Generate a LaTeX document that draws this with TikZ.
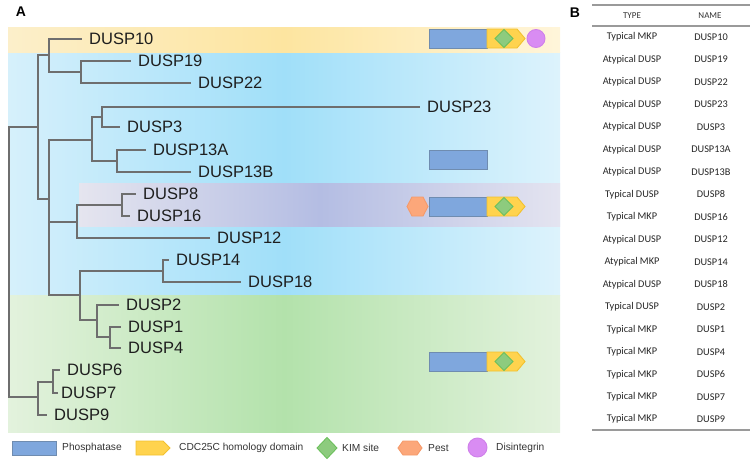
\documentclass[tikz,border=0pt]{standalone}
\usepackage{fontspec}
\setmainfont{Liberation Sans}
\newfontfamily\tabfont{Carlito}

\definecolor{treegray}{HTML}{6E6E6E}
\definecolor{leafblack}{HTML}{1E1E1E}
\definecolor{phosblue}{HTML}{7FA7DD}
\definecolor{phosedge}{HTML}{6F8CB0}
\definecolor{cdcyellow}{HTML}{FFD34E}
\definecolor{cdcedge}{HTML}{F2C12E}
\definecolor{kimgreen}{HTML}{8DCB7E}
\definecolor{kimedge}{HTML}{6CC05C}
\definecolor{pestorange}{HTML}{FCA77A}
\definecolor{pestedge}{HTML}{F59A6A}
\definecolor{disviolet}{HTML}{D98CF3}
\definecolor{disedge}{HTML}{CF80EA}
\definecolor{rulegray}{HTML}{9A9A9A}
\definecolor{bluel}{HTML}{D6F0FB}
\definecolor{bluem}{HTML}{A0DFF9}
\definecolor{bluer}{HTML}{DDF3FC}
\definecolor{yell}{HTML}{FCEFCA}
\definecolor{yelm}{HTML}{FDE5A0}
\definecolor{yelr}{HTML}{FFF5DA}
\definecolor{purl}{HTML}{E5E5EF}
\definecolor{purm}{HTML}{B4BDE3}
\definecolor{purr}{HTML}{E4E4F0}
\definecolor{grnl}{HTML}{E3F2DD}
\definecolor{grnm}{HTML}{B3E2AB}
\definecolor{grnr}{HTML}{E3F2DD}

\tikzset{
  branch/.style={draw=treegray, line width=2.2pt},
  leaf/.style={anchor=west, inner xsep=7pt, inner ysep=0pt, text=leafblack,
    font=\fontsize{16.5}{18}\selectfont},
  phos/.style={fill=phosblue, draw=phosedge, line width=0.9pt},
  cdc/.style={fill=cdcyellow, draw=cdcedge, line width=0.9pt},
  kim/.style={fill=kimgreen, draw=kimedge, line width=0.9pt},
  pest/.style={fill=pestorange, draw=pestedge, line width=0.9pt},
  disin/.style={fill=disviolet, draw=disedge, line width=0.9pt},
  legtext/.style={anchor=west, inner sep=0pt, text=black!80,
    font=\fontsize{10.2}{12}\selectfont},
  tabtext/.style={text=black!85, font=\tabfont\fontsize{10.3}{12}\selectfont},
  tabhead/.style={text=black!80, font=\tabfont\fontsize{9}{11}\selectfont},
  tabrule/.style={draw=rulegray, line width=1.2pt}
}

\begin{document}
\begin{tikzpicture}[x=1pt, y=-1pt]
    \useasboundingbox (0,0) rectangle (756,463);

    % coloured groups
    \shade[left color=bluel, right color=bluer, middle color=bluem] (8,52) rectangle (560,295);
    \shade[left color=yell, right color=yelr, middle color=yelm] (8,27) rectangle (560,52);
    \shade[left color=purl, right color=purr, middle color=purm] (79,183) rectangle (560,226);
    \shade[left color=grnl, right color=grnr, middle color=grnm] (8,295) rectangle (560,432);

    \node[font=\bfseries\fontsize{14}{16}\selectfont] (lblA) at (21,12) {A};
    \node[font=\bfseries\fontsize{14}{16}\selectfont] (lblB) at (575,13) {B};

    % inner nodes of the tree
    \coordinate (r) at (9,263);
    \coordinate (u) at (38,127);
    \coordinate (a) at (49,55);
    \coordinate (c) at (81,72);
    \coordinate (b) at (49,199);
    \coordinate (d) at (92,140);
    \coordinate (h) at (102,117);
    \coordinate (i) at (117,161);
    \coordinate (e) at (77,222);
    \coordinate (j) at (122,205);
    \coordinate (f) at (80,295);
    \coordinate (k) at (163,271);
    \coordinate (l) at (97,320);
    \coordinate (m) at (110,337);
    \coordinate (g) at (38,397);
    \coordinate (n) at (53,382);

    % leaves
    \node[leaf] (dusp10) at (82,39) {DUSP10};
    \node[leaf] (dusp19) at (131,61) {DUSP19};
    \node[leaf] (dusp22) at (191,83) {DUSP22};
    \node[leaf] (dusp23) at (420,107) {DUSP23};
    \node[leaf] (dusp3) at (120,127) {DUSP3};
    \node[leaf] (dusp13a) at (146,150) {DUSP13A};
    \node[leaf] (dusp13b) at (191,172) {DUSP13B};
    \node[leaf] (dusp8) at (136,194) {DUSP8};
    \node[leaf] (dusp16) at (130,216) {DUSP16};
    \node[leaf] (dusp12) at (210,238) {DUSP12};
    \node[leaf] (dusp14) at (169,260) {DUSP14};
    \node[leaf] (dusp18) at (241,282) {DUSP18};
    \node[leaf] (dusp2) at (119,305) {DUSP2};
    \node[leaf] (dusp1) at (121,327) {DUSP1};
    \node[leaf] (dusp4) at (121,348) {DUSP4};
    \node[leaf] (dusp6) at (60,370) {DUSP6};
    \node[leaf, inner xsep=3pt] (dusp7) at (58,393) {DUSP7};
    \node[leaf] (dusp9) at (47,415) {DUSP9};

    % branches
    \draw[branch] (r) |- (u);
    \draw[branch] (r) |- (g);
    \draw[branch] (u) |- (a);
    \draw[branch] (u) |- (b);
    \draw[branch] (a) |- (dusp10.west);
    \draw[branch] (a) |- (c);
    \draw[branch] (c) |- (dusp19.west);
    \draw[branch] (c) |- (dusp22.west);
    \draw[branch] (b) |- (d);
    \draw[branch] (b) |- (e);
    \draw[branch] (b) |- (f);
    \draw[branch] (d) |- (h);
    \draw[branch] (d) |- (i);
    \draw[branch] (h) |- (dusp23.west);
    \draw[branch] (h) |- (dusp3.west);
    \draw[branch] (i) |- (dusp13a.west);
    \draw[branch] (i) |- (dusp13b.west);
    \draw[branch] (e) |- (j);
    \draw[branch] (e) |- (dusp12.west);
    \draw[branch] (j) |- (dusp8.west);
    \draw[branch] (j) |- (dusp16.west);
    \draw[branch] (f) |- (k);
    \draw[branch] (f) |- (l);
    \draw[branch] (k) |- (dusp14.west);
    \draw[branch] (k) |- (dusp18.west);
    \draw[branch] (l) |- (dusp2.west);
    \draw[branch] (l) |- (m);
    \draw[branch] (m) |- (dusp1.west);
    \draw[branch] (m) |- (dusp4.west);
    \draw[branch] (g) |- (n);
    \draw[branch] (g) |- (dusp9.west);
    \draw[branch] (n) |- (dusp6.west);
    \draw[branch] (n) |- (dusp7.west);

    % domains
    \draw[phos] (429,29) rectangle (487,48);
    \draw[cdc] (487,29) -- (517,29) -- (525,38.5) -- (517,48) -- (487,48) -- cycle;
    \draw[kim] (504,29.5) -- (513,38.5) -- (504,47.5) -- (495,38.5) -- cycle;
    \draw[disin] (536,38.5) circle[radius=9pt];

    \draw[phos] (429,150) rectangle (487,169);

    \draw[pest] (407,206.5) -- (412,197) -- (423,197) -- (428,206.5) -- (423,216) -- (412,216) -- cycle;
    \draw[phos] (429,197) rectangle (487,216);
    \draw[cdc] (487,197) -- (517,197) -- (525,206.5) -- (517,216) -- (487,216) -- cycle;
    \draw[kim] (504,197.5) -- (513,206.5) -- (504,215.5) -- (495,206.5) -- cycle;

    \draw[phos] (429,352) rectangle (487,371);
    \draw[cdc] (487,352) -- (517,352) -- (525,361.5) -- (517,371) -- (487,371) -- cycle;
    \draw[kim] (504,352.5) -- (513,361.5) -- (504,370.5) -- (495,361.5) -- cycle;

    % legend
    \draw[phos] (12,441) rectangle (56,455);
    \node[legtext] (legphos) at (62,448) {Phosphatase};
    \draw[cdc] (136,441) -- (163,441) -- (170,448) -- (163,455) -- (136,455) -- cycle;
    \node[legtext] (legcdc) at (179,448) {CDC25C homology domain};
    \draw[kim] (327,437.5) -- (337,448) -- (327,458.5) -- (317,448) -- cycle;
    \node[legtext] (legkim) at (342,448) {KIM site};
    \draw[pest] (398,448) -- (403,441) -- (417,441) -- (422,448) -- (417,455) -- (403,455) -- cycle;
    \node[legtext] (legpest) at (428,448) {Pest};
    \draw[disin] (477.5,447.5) circle[radius=9.5pt];
    \node[legtext] (legdis) at (496,448) {Disintegrin};

    % table
    \draw[tabrule] (592,5) -- (750,5);
    \draw[tabrule] (592,26) -- (750,26);
    \draw[tabrule] (592,430) -- (750,430);
    \node[tabhead] (hdtype) at (632,16) {TYPE};
    \node[tabhead] (hdname) at (710,16) {NAME};
    \node[tabtext] (ty1) at (632,37) {Typical MKP};      \node[tabtext] (nm1) at (711,37) {DUSP10};
    \node[tabtext] (ty2) at (632,59.5) {Atypical DUSP};  \node[tabtext] (nm2) at (711,59.5) {DUSP19};
    \node[tabtext] (ty3) at (632,82) {Atypical DUSP};    \node[tabtext] (nm3) at (711,82) {DUSP22};
    \node[tabtext] (ty4) at (632,104.5) {Atypical DUSP}; \node[tabtext] (nm4) at (711,104.5) {DUSP23};
    \node[tabtext] (ty5) at (632,127) {Atypical DUSP};   \node[tabtext] (nm5) at (711,127) {DUSP3};
    \node[tabtext] (ty6) at (632,149.5) {Atypical DUSP}; \node[tabtext] (nm6) at (711,149.5) {DUSP13A};
    \node[tabtext] (ty7) at (632,172) {Atypical DUSP};   \node[tabtext] (nm7) at (711,172) {DUSP13B};
    \node[tabtext] (ty8) at (632,194.5) {Typical DUSP};  \node[tabtext] (nm8) at (711,194.5) {DUSP8};
    \node[tabtext] (ty9) at (632,217) {Typical MKP};     \node[tabtext] (nm9) at (711,217) {DUSP16};
    \node[tabtext] (ty10) at (632,239.5) {Atypical DUSP}; \node[tabtext] (nm10) at (711,239.5) {DUSP12};
    \node[tabtext] (ty11) at (632,262) {Atypical MKP};    \node[tabtext] (nm11) at (711,262) {DUSP14};
    \node[tabtext] (ty12) at (632,284.5) {Atypical DUSP}; \node[tabtext] (nm12) at (711,284.5) {DUSP18};
    \node[tabtext] (ty13) at (632,307) {Typical DUSP};    \node[tabtext] (nm13) at (711,307) {DUSP2};
    \node[tabtext] (ty14) at (632,329.5) {Typical MKP};   \node[tabtext] (nm14) at (711,329.5) {DUSP1};
    \node[tabtext] (ty15) at (632,352) {Typical MKP};     \node[tabtext] (nm15) at (711,352) {DUSP4};
    \node[tabtext] (ty16) at (632,374.5) {Typical MKP};   \node[tabtext] (nm16) at (711,374.5) {DUSP6};
    \node[tabtext] (ty17) at (632,397) {Typical MKP};     \node[tabtext] (nm17) at (711,397) {DUSP7};
    \node[tabtext] (ty18) at (632,419) {Typical MKP};     \node[tabtext] (nm18) at (711,419) {DUSP9};

\end{tikzpicture}
\end{document}
